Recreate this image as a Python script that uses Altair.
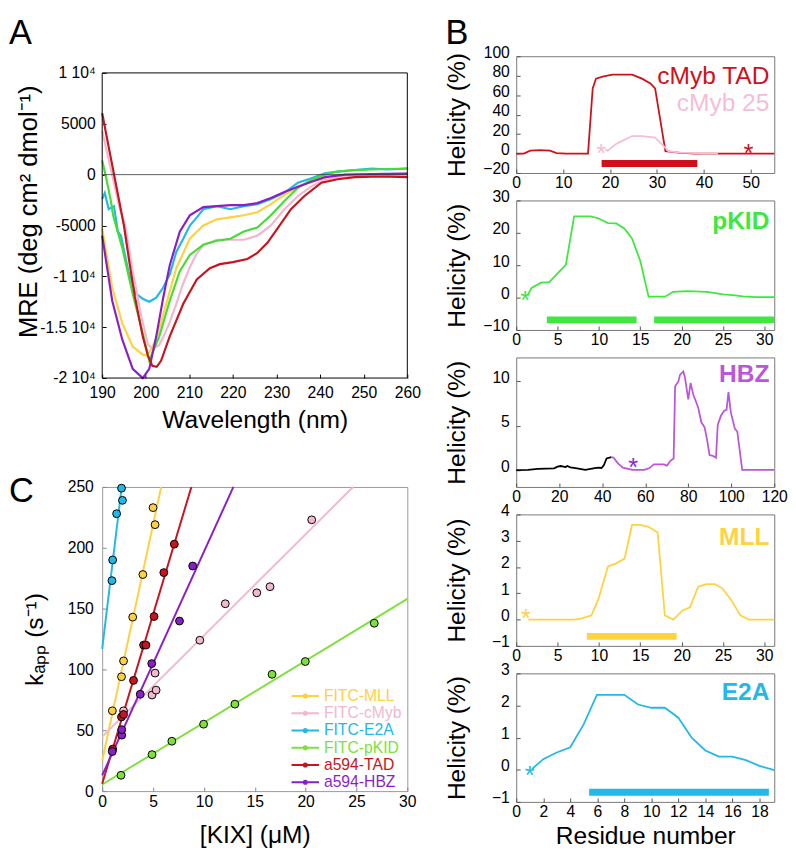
import altair as alt
import pandas as pd

FONT = "Liberation Sans"

# ---------------- Panel A : CD spectra ----------------
A_SERIES = ["E2A", "MLL", "cMyb", "pKID", "HBZ", "TAD"]
A_COLORS = ["#22B8E8", "#FFD040", "#F2B6CF", "#44DD33", "#8A1FC8", "#C8141E"]

A_TAD_WL = [190, 191, 192, 193, 194, 195, 196.2, 197.5, 199.3, 200.5, 201.5, 202.5, 203.5, 205.5, 208.6,
            211.7, 214.7, 217, 220, 223.3, 225.6, 227.9, 230.2, 233.3, 236.4, 240.3, 244, 248, 251.9, 256, 260]
A_TAD_MRE = [6050, 3800, 1600, -600, -2800, -5050, -8500, -12000, -15900, -17800, -18800, -18900, -18300,
             -15900, -12700, -10300, -9200, -8800, -8600, -8300, -7700, -6700, -5300, -3400, -2100, -800,
             -450, -250, -200, -200, -250]
A_CMYB_WL = [190, 191, 192, 193, 194, 195.3, 197, 199, 200.5, 201.5, 203, 204, 205.5, 207, 208.5, 210, 211.5,
             213.2, 216.3, 219.4, 222.5, 225.6, 228.7, 231.8, 234.9, 238, 241.1, 245.7, 251.9, 260]
A_CMYB_MRE = [4300, 2400, 500, -1400, -3300, -5050, -9500, -14000, -16700, -17100, -16800, -16000, -14500,
              -12700, -10800, -9200, -7900, -6900, -6400, -6400, -6400, -6000, -5000, -3400, -2100, -1150,
              -500, -200, 50, 100]
A_PKID_WL = [190, 191, 192, 192.5, 194.6, 197, 199.3, 200.8, 203.1, 205.5, 207.8, 210.1, 213.2, 216.3, 219.4,
             222.5, 225.6, 228.7, 231.8, 234.9, 238, 241.1, 244, 248, 251.9, 256, 260]
A_PKID_MRE = [1400, -500, -2600, -4000, -7200, -11700, -15600, -18300, -15900, -12400, -9500, -7900, -6900,
              -6500, -6300, -5600, -5200, -4000, -2600, -1300, -500, 0, 300, 450, 500, 550, 600]
A_MLL_WL = [190, 192.3, 194.6, 197, 199.3, 200.4, 202.4, 204.7, 207, 210.1, 213.2, 216.3, 219.4, 222.5,
            225.6, 228.7, 231.8, 234.9, 238, 241.1, 245.7, 251.9, 260]
A_MLL_MRE = [-5300, -11100, -14600, -16900, -17700, -17800, -16200, -12700, -9200, -6300, -5000, -4400,
             -4200, -4000, -3700, -2900, -2000, -1200, -700, -350, -130, 0, 0]
A_E2A_WL = [190, 190.6, 191.5, 192.3, 192.7, 193.6, 194.3, 196, 197.7, 199.3, 200.8, 202.4, 204, 205.5, 207,
            208.6, 210.1, 211.7, 213.2, 216.3, 219.4, 222.5, 225.6, 228.7, 231.8, 234.9, 238, 241.1, 244,
            248, 251.9, 255.7, 260]
A_E2A_MRE = [-2400, -1800, -3400, -3200, -3100, -5600, -6000, -9500, -11700, -12200, -12500, -12100, -11100,
             -9800, -7600, -6300, -5000, -4200, -3400, -3100, -3400, -3100, -2900, -2400, -1800, -800, -350,
             130, 300, 450, 600, 500, 600]
A_HBZ_WL = [190, 192.3, 194.6, 197, 199.3, 200.8, 202.4, 204, 205.5, 207.8, 210.1, 213.2, 216.3, 219.4,
            222.5, 225.6, 228.7, 231.8, 234.9, 238, 241.1, 245.7, 251.9, 260]
A_HBZ_MRE = [-6000, -12400, -16200, -19100, -20000, -19100, -15900, -12100, -8900, -5600, -4000, -3200,
             -3100, -3000, -3000, -2800, -2300, -1700, -1200, -700, -250, 0, 60, 100]

A_XTICKS = [190, 200, 210, 220, 230, 240, 250, 260]
A_YTICKS = [10000, 5000, 0, -5000, -10000, -15000, -20000]
A_YTICK_LABELS = ["1 10⁴", "5000", "0", "-5000", "-1 10⁴", "-1.5 10⁴", "-2 10⁴"]
A_XDOM = [190, 260]
A_YDOM = [-20000, 10000]

# ---------------- Panel C : kinetics ----------------
C_SERIES = ["FITC-MLL", "FITC-cMyb", "FITC-E2A", "FITC-pKID", "a594-TAD", "a594-HBZ"]
C_COLORS = ["#FFD040", "#F2B8CF", "#22B8E8", "#7EE03A", "#C8141E", "#8A1FC8"]
C_KIX = {
    "FITC-MLL": [1.0, 1.9, 2.1, 3.0, 4.0, 5.0, 5.2],
    "FITC-cMyb": [2.1, 4.9, 5.2, 5.3, 9.6, 12.1, 15.2, 16.5, 20.6],
    "FITC-E2A": [0.96, 1.03, 1.42, 1.99, 1.9],
    "FITC-pKID": [1.85, 4.9, 6.85, 9.97, 13.05, 16.7, 19.97, 26.75],
    "a594-TAD": [1.03, 1.9, 2.1, 3.08, 4.07, 4.3, 5.1, 6.06, 7.09],
    "a594-HBZ": [0.99, 1.92, 1.92, 3.74, 4.87, 7.6, 8.9],
}
C_KAPP = {
    "FITC-MLL": [66, 94, 107, 143, 178, 233, 219],
    "FITC-cMyb": [66, 79, 97, 83, 124, 154, 163, 168, 223],
    "FITC-E2A": [173, 190, 228, 239, 249],
    "FITC-pKID": [13, 30, 41, 55, 71.5, 96, 106.5, 138],
    "a594-TAD": [34.5, 61, 63, 91, 120, 120, 143.5, 179.6, 203],
    "a594-HBZ": [32.5, 46, 50.5, 79.6, 104.8, 139.8, 185],
}
C_FIT_X0 = [0, 0, 0, 0, 0, 0]
C_FIT_Y0 = [25, 44.6, 117, 5.4, 6, 12.9]
C_FIT_X1 = [5.8, 24.67, 1.92, 30, 8.77, 12.9]
C_FIT_Y1 = [250, 250, 250, 158, 250, 250]

# ---------------- Panel B : helicity profiles ----------------
B1_TAD_R = [0, 1.6, 3.0, 5.1, 7.2, 8.6, 10.7, 15.3, 16.3, 17.0, 18.4, 20.5, 24.7, 26.8, 28.6, 29.6, 31.8, 34.6, 38.1, 55]
B1_TAD_V = [0, 0, 3, 3.6, 3, 0.5, 0, 0, 67, 77, 79, 81, 81, 77, 72, 67, 2.5, 1, 0, 0]
B1_C25_R = [19.0, 19.5, 21.2, 22.6, 24.7, 26.8, 29.6, 31.0, 32.5, 35.3, 40.9, 43]
B1_C25_V = [4, 3, 9.6, 13, 18, 18, 16.3, 9.6, 2.2, 0.9, 0, 0]
B1_AST = [(49.5, 6.3), (18.1, 6.3)]
B1_BAR = [(18.2, 38.6, -10.2)]

B2_R = [1.4, 1.86, 3.0, 4.0, 5.0, 6.0, 7.0, 9.0, 9.9, 11.1, 12.1, 13.1, 14.0, 15.0, 16.0, 18.0, 18.96, 20.7,
        23.1, 25.0, 26.2, 27.4, 29.0, 31.2]
B2_V = [0.9, 2.98, 4.59, 4.79, 7.49, 10.1, 25.1, 25.1, 24.5, 23.0, 22.9, 21.3, 18.3, 11.3, 0.28, 0.28, 1.78,
        1.98, 1.78, 0.98, 0.78, 0.38, 0.18, 0.18]
B2_AST = [(1.1, 1.0)]
B2_BAR = [(3.7, 14.55, -6.9), (16.68, 31.2, -6.9)]

B3_BLACK_R = [0, 5.5, 10, 17.6, 19.2, 20.7, 23, 23.7, 25.2, 28.3, 32.1, 35.9, 38.2, 39.7, 40.8, 42, 44.3]
B3_BLACK_V = [0, 0.02, 0.13, 0.2, 0.39, 0.46, 0.35, 0.46, 0.31, 0.2, 0.02, 0.2, 0.28, 0.24, 0.57, 1.31, 1.46]
B3_HBZ_R = [44.3, 45.3, 47.3, 49.6, 54.1, 59.5, 61.8, 64, 68.6, 70.1, 71.6, 73.2, 73.9, 75.4, 76.2, 77.7, 78.5,
            80, 81.1, 82.3, 84.6, 86.1, 87.6, 88.8, 89.9, 91.4, 92.9, 93.7, 95.2, 96.7, 97.8, 98.7, 99.8,
            101.7, 102.8, 105.1, 120]
B3_HBZ_V = [1.46, 1.39, 0.76, 0.28, 0.02, 0.02, 0.2, 0.65, 0.65, 0.5, 1.02, 1.31, 9.46, 10.0, 10.76, 11.13,
            10.39, 7.98, 9.83, 8.54, 7.06, 5.39, 4.83, 3.35, 1.69, 1.61, 1.39, 5.09, 6.13, 6.69, 6.8, 8.8,
            6.5, 4.65, 4.35, 0.02, 0.02]
B3_AST = [(54.4, 0.94)]

B4_R = [1.46, 7.0, 7.95, 9.1, 9.9, 11.1, 12.1, 13.1, 14.0, 15.0, 16.0, 17.1, 17.97, 19.0, 20.1, 21.0, 22.0,
        23.0, 24.0, 24.9, 26.0, 27.1, 28.1, 31.2]
B4_V = [0, 0, 0.05, 0.16, 0.75, 2.02, 2.14, 2.32, 3.6, 3.6, 3.53, 3.31, 0.16, 0, 0.35, 0.47, 1.25, 1.35,
        1.35, 1.19, 0.75, 0.16, 0, 0]
B4_AST = [(1.17, 0.26)]
B4_BAR = [(8.54, 19.4, -0.64)]

B5_R = [1.16, 2.0, 2.96, 4.0, 5.0, 5.97, 8.0, 9.02, 10.0, 11.0, 12.0, 13.0, 14.0, 15.0, 16.0, 17.0, 18.0, 19.1]
B5_V = [0.02, 0.33, 0.53, 0.70, 1.42, 2.33, 2.33, 2.03, 1.93, 1.93, 1.62, 0.99, 0.60, 0.41, 0.41, 0.30, 0.12, -0.01]
B5_AST = [(1.0, 0.0)]
B5_BAR = [(5.4, 18.7, -0.70)]

TICK = 4  # inward tick length: axis moved inside by TICK, ticks drawn outward up to the frame

# ================= build panel A =================
A_DATA = {
    "E2A": (A_E2A_WL, A_E2A_MRE), "MLL": (A_MLL_WL, A_MLL_MRE), "cMyb": (A_CMYB_WL, A_CMYB_MRE),
    "pKID": (A_PKID_WL, A_PKID_MRE), "HBZ": (A_HBZ_WL, A_HBZ_MRE), "TAD": (A_TAD_WL, A_TAD_MRE),
}
rows = []
for s in A_SERIES:
    wl, mre = A_DATA[s]
    for w, m in zip(wl, mre):
        rows.append({"wl": w, "mre": m, "series": s})
a_df = pd.DataFrame(rows)

A_PLOT_H = 311
A_EXTRA = 17  # plot area extends 17px above the frame so panel A lines up with panel B
a_ytop = A_YDOM[1] + A_EXTRA * (A_YDOM[1] - A_YDOM[0]) / A_PLOT_H

ylab_expr = " : ".join(f"datum.value == {v} ? '{t}'" for v, t in zip(A_YTICKS, A_YTICK_LABELS)) + " : ''"

a_xs = alt.Scale(domain=A_XDOM, nice=False, zero=False)
a_ys = alt.Scale(domain=[A_YDOM[0], a_ytop], nice=False, zero=False)
a_xaxis = alt.Axis(values=A_XTICKS, title="Wavelength (nm)", titleY=50 + TICK, titleBaseline="alphabetic",
                   labelFlush=False, labelPadding=7, labelOverlap=False, offset=-TICK, ticks=True,
                   tickSize=TICK, tickColor="black")
a_yaxis = alt.Axis(values=A_YTICKS, labelExpr=ylab_expr, title="MRE (deg cm² dmol⁻¹)",
                   titleX=-67 - TICK, titleY=158, titleBaseline="alphabetic", titleFontSize=26,
                   labelPadding=7, labelOverlap=False, offset=-TICK, ticks=True, tickSize=TICK,
                   tickColor="black")
a_x = alt.X("wl:Q", scale=a_xs, axis=a_xaxis)
a_y = alt.Y("mre:Q", scale=a_ys, axis=a_yaxis)

frame_h = pd.DataFrame({"wl": [A_XDOM[0], A_XDOM[0]], "wl2": [A_XDOM[1], A_XDOM[1]], "mre": A_YDOM})
frame_v = pd.DataFrame({"wl": A_XDOM, "mre": [A_YDOM[0], A_YDOM[0]], "mre2": [A_YDOM[1], A_YDOM[1]]})
a_frame_h = alt.Chart(frame_h).mark_rule(color="black", strokeWidth=1).encode(x=a_x, x2="wl2:Q", y=a_y)
a_frame_v = alt.Chart(frame_v).mark_rule(color="black", strokeWidth=1).encode(x=a_x, y=a_y, y2="mre2:Q")
a_zero = alt.Chart(pd.DataFrame({"mre": [0]})).mark_rule(color="#333333", strokeWidth=0.8).encode(y=a_y)
a_lines = alt.Chart(a_df).mark_line(strokeWidth=2.2).encode(
    x=a_x, y=a_y,
    color=alt.Color("series:N", scale=alt.Scale(domain=A_SERIES, range=A_COLORS), legend=None),
)
letter_a = alt.Chart(pd.DataFrame({"t": ["A"]})).mark_text(
    align="left", baseline="alphabetic", fontSize=35, font=FONT, color="black"
).encode(text="t:N", x=alt.value(-95), y=alt.value(-12))
panel_a = alt.layer(a_lines, a_zero, a_frame_h, a_frame_v, letter_a).properties(
    width=311, height=A_PLOT_H + A_EXTRA, view=alt.ViewBackground(strokeWidth=0, stroke="transparent"))

# ================= build panel C =================
prow = []
for s in C_SERIES:
    for k, v in zip(C_KIX[s], C_KAPP[s]):
        prow.append({"kix": k, "kapp": v, "series": s})
c_pts_df = pd.DataFrame(prow)
lrow = []
for s, x0, y0, x1, y1 in zip(C_SERIES, C_FIT_X0, C_FIT_Y0, C_FIT_X1, C_FIT_Y1):
    lrow.append({"kix": x0, "kapp": y0, "series": s})
    lrow.append({"kix": x1, "kapp": y1, "series": s})
c_lines_df = pd.DataFrame(lrow)

label_color_expr = ("[" + ",".join(f"'{c}'" for c in C_COLORS) + "][indexof([" +
                    ",".join(f"'{s}'" for s in C_SERIES) + "], datum.value)]")
c_x = alt.X("kix:Q", scale=alt.Scale(domain=[0, 30], nice=False, zero=False),
            axis=alt.Axis(values=[0, 5, 10, 15, 20, 25, 30], title="[KIX] (μM)", titleY=52 + TICK,
                          titleBaseline="alphabetic", labelFlush=False, labelPadding=3, labelOverlap=False,
                          offset=-TICK, ticks=True, tickSize=TICK, tickColor="#888888"))
c_y = alt.Y("kapp:Q", scale=alt.Scale(domain=[0, 250], nice=False, zero=False),
            axis=alt.Axis(values=[0, 50, 100, 150, 200, 250], title="kₐₚₚ (s⁻¹)", titleX=-61 - TICK,
                          titleBaseline="alphabetic", labelPadding=9, labelOverlap=False,
                          offset=-TICK, ticks=True, tickSize=TICK, tickColor="#888888"))
c_lines = alt.Chart(c_lines_df).mark_line(strokeWidth=2).encode(
    x=c_x, y=c_y,
    color=alt.Color("series:N", scale=alt.Scale(domain=C_SERIES, range=C_COLORS), legend=alt.Legend(
        orient="none", legendX=198, legendY=204, title=None,
        symbolType="M-1.75,0H1.75M0.2,0A0.2,0.2,0,1,1,-0.2,0A0.2,0.2,0,1,1,0.2,0",
        symbolSize=256, symbolStrokeWidth=2, labelFontSize=16, labelFont=FONT,
        labelColor=alt.ExprRef(label_color_expr), rowPadding=0.6, labelOffset=10, padding=0)),
)
c_pts = alt.Chart(c_pts_df).mark_point(filled=True, size=64, stroke="black", strokeWidth=1, opacity=1).encode(
    x=c_x, y=c_y,
    fill=alt.Fill("series:N", scale=alt.Scale(domain=C_SERIES, range=C_COLORS), legend=None),
)
letter_c = alt.Chart(pd.DataFrame({"t": ["C"]})).mark_text(
    align="left", baseline="alphabetic", fontSize=35, font=FONT, color="black"
).encode(text="t:N", x=alt.value(-95), y=alt.value(15))
panel_c = alt.layer(c_lines, c_pts, letter_c).properties(
    width=311, height=310, view=alt.ViewBackground(stroke="#999999", strokeWidth=1)
).resolve_scale(color="independent", fill="independent")


# ================= build panel B =================
def b_panel(segments, seg_colors, asterisks, bars, bar_color, labels, xdom, xvals, ydom, yvals, h,
            last=False, letter=None):
    W = 263
    rows = []
    for name, (rr, vv) in segments.items():
        for r, v in zip(rr, vv):
            rows.append({"r": r, "v": v, "seg": name})
    df = pd.DataFrame(rows)
    xs = alt.Scale(domain=xdom, nice=False, zero=False)
    ys = alt.Scale(domain=ydom, nice=False, zero=False)
    xaxis_kw = dict(values=xvals, labelFlush=False, labelPadding=2, labelOverlap=False, offset=-TICK,
                    ticks=True, tickSize=TICK, tickColor="#555555")
    if last:
        xaxis_kw.update(title="Residue number", titleY=42 + TICK, titleBaseline="alphabetic")
    else:
        xaxis_kw.update(title=None)
    xaxis = alt.Axis(**xaxis_kw)
    yaxis = alt.Axis(values=yvals, labelOffset=-4, labelPadding=7, title="Helicity (%)", titleX=-53 - TICK,
                     titleY=h / 2, titleBaseline="alphabetic", labelOverlap=False, offset=-TICK,
                     ticks=True, tickSize=TICK, tickColor="#555555")
    X = alt.X("r:Q", scale=xs, axis=xaxis)
    Y = alt.Y("v:Q", scale=ys, axis=yaxis)
    layers = []
    for (r0, r1, v) in bars:
        layers.append(alt.Chart(pd.DataFrame({"r": [r0], "r2": [r1], "v": [v]})).mark_rule(
            strokeWidth=7, color=bar_color, strokeCap="butt").encode(x=X, x2="r2:Q", y=Y))
    layers.append(alt.Chart(df).mark_line(strokeWidth=1.8).encode(
        x=X, y=Y,
        color=alt.Color("seg:N", scale=alt.Scale(domain=list(segments.keys()), range=seg_colors), legend=None),
    ))
    for (r, v), col in asterisks:
        layers.append(alt.Chart(pd.DataFrame({"r": [r], "v": [v]})).mark_text(
            text="*", fontSize=26, font=FONT, color=col, baseline="middle", dy=7).encode(x=X, y=Y))
    for text, col, weight, ly in labels:
        layers.append(alt.Chart(pd.DataFrame({"t": [text]})).mark_text(
            align="right", baseline="alphabetic", fontSize=25, fontWeight=weight, font=FONT, color=col
        ).encode(text="t:N", x=alt.value(W - 5), y=alt.value(ly)))
    if letter:
        layers.append(alt.Chart(pd.DataFrame({"t": [letter]})).mark_text(
            align="left", baseline="alphabetic", fontSize=35, font=FONT, color="black"
        ).encode(text="t:N", x=alt.value(-72), y=alt.value(-12)))
    return alt.layer(*layers).properties(
        width=W, height=h, view=alt.ViewBackground(stroke="#777777", strokeWidth=1))


RED_B = "#D0101A"
PINK_B = "#F4BED8"
GREEN_B = "#3EE83E"
PURPLE_B = "#BB55DD"
PURPLE_AST = "#8A2BD0"
YELLOW_B = "#FFD23F"
CYAN_B = "#22B8E8"

b1 = b_panel({"TAD": (B1_TAD_R, B1_TAD_V), "c25": (B1_C25_R, B1_C25_V)}, [RED_B, PINK_B],
             [(B1_AST[0], RED_B), (B1_AST[1], PINK_B)], B1_BAR, RED_B,
             [("cMyb TAD", RED_B, "normal", 28), ("cMyb 25", PINK_B, "normal", 56)],
             [0, 55], [0, 10, 20, 30, 40, 50], [-20, 100], [-20, 0, 20, 40, 60, 80, 100], 119, letter="B")
b2 = b_panel({"pKID": (B2_R, B2_V)}, [GREEN_B], [(B2_AST[0], GREEN_B)], B2_BAR, GREEN_B,
             [("pKID", GREEN_B, "bold", 29)],
             [0, 31.2], [0, 5, 10, 15, 20, 25, 30], [-10, 30], [-10, 0, 10, 20, 30], 132)
b3 = b_panel({"black": (B3_BLACK_R, B3_BLACK_V), "HBZ": (B3_HBZ_R, B3_HBZ_V)}, ["black", PURPLE_B],
             [(B3_AST[0], PURPLE_AST)], [], PURPLE_B,
             [("HBZ", PURPLE_B, "bold", 25)],
             [0, 120], [0, 20, 40, 60, 80, 100, 120], [-1.9, 12.7], [0, 5, 10], 132)
b4 = b_panel({"MLL": (B4_R, B4_V)}, [YELLOW_B], [(B4_AST[0], YELLOW_B)], B4_BAR, YELLOW_B,
             [("MLL", YELLOW_B, "bold", 31)],
             [0, 31.2], [0, 5, 10, 15, 20, 25, 30], [-1, 4], [-1, 0, 1, 2, 3, 4], 134)
b5 = b_panel({"E2A": (B5_R, B5_V)}, [CYAN_B], [(B5_AST[0], CYAN_B)], B5_BAR, CYAN_B,
             [("E2A", CYAN_B, "bold", 27)],
             [0, 19.1], [0, 2, 4, 6, 8, 10, 12, 14, 16, 18], [-1, 3], [-1, 0, 1, 2, 3], 131, last=True)

left = alt.vconcat(panel_a, panel_c, spacing=111, bounds="flush").resolve_scale(
    color="independent", fill="independent")
right = alt.vconcat(b1, b2, b3, b4, b5, spacing=28, bounds="flush").resolve_scale(
    color="independent", fill="independent")

chart = alt.hconcat(left, right, spacing=23).properties(padding=0).resolve_scale(
    color="independent", fill="independent"
).configure_axis(
    labelFont=FONT, titleFont=FONT, labelFontSize=16, titleFontSize=25, titleFontWeight="normal",
    labelColor="black", titleColor="black", grid=False, domain=False, labelOverlap=False,
).configure_view(strokeWidth=1)

chart.save("out.html", embed_options={"renderer": "svg", "actions": False})
